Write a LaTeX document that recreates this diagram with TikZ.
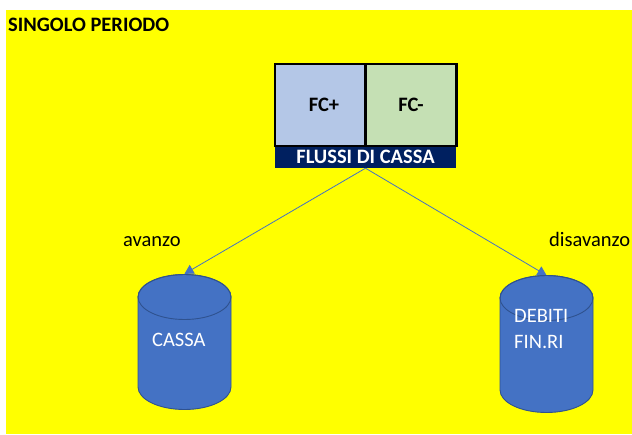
\documentclass[tikz,border=0pt]{standalone}
\usepackage{fontspec}
\setmainfont{Carlito}
\usetikzlibrary{arrows.meta}
\definecolor{sheet}{HTML}{FFFF00}
\definecolor{inflow}{HTML}{B4C7E7}
\definecolor{outflow}{HTML}{C5E0B4}
\definecolor{navy}{HTML}{002060}
\definecolor{drum}{HTML}{4472C4}
\definecolor{drumedge}{HTML}{2F528F}
\definecolor{link}{HTML}{4472C4}
\tikzset{
  cell/.style={draw=black, line width=2.6pt, minimum width=91pt, minimum height=82pt, inner sep=0pt},
  celltext/.style={inner sep=0pt, font=\fontsize{20.5}{22}\selectfont\bfseries},
  band/.style={fill=navy, text=white, minimum width=181pt, minimum height=22pt, inner sep=0pt, font=\fontsize{20.5}{22}\selectfont\bfseries},
  label/.style={anchor=base west, inner sep=0pt, font=\fontsize{20.5}{22}\selectfont},
  drumlabel/.style={anchor=base west, inner sep=0pt, text=white, align=left, font=\fontsize{20.5}{26}\selectfont},
  flow/.style={draw=link, line width=0.8pt, -{Triangle[length=9pt,width=10pt]}},
  drumbody/.style={fill=drum, draw=drumedge, line width=0.9pt},
  drumlid/.style={draw=drumedge, line width=0.9pt},
  holder/.style={minimum width=93pt, minimum height=136pt, inner sep=0pt}
}
\begin{document}
\begin{tikzpicture}[x=1pt,y=-1pt]
\useasboundingbox (0,0) rectangle (632,434);
\fill[sheet] (6,10) rectangle (632,434);

% title
\node[anchor=base west, inner sep=0pt, font=\fontsize{20.5}{22}\selectfont\bfseries] (title) at (8,31) {SINGOLO PERIODO};

% cash-flow table
\node[band] (bar) at (365.5,157) {FLUSSI DI CASSA};
\node[cell, fill=inflow] (fcp) at (320.5,105) {};
\node[cell, fill=outflow] (fcm) at (411,105) {};
\node[celltext] (fcptext) at (324,105) {FC+};
\node[celltext] (fcmtext) at (411,105) {FC-};

% invisible frames that locate the two drums
\node[holder] (cassa) at (184.5,342) {};
\node[holder] (debiti) at (546.5,343.5) {};

% connectors (drawn first so the drums cover their tips)
\draw[flow] (bar.south) -- (cassa.north);
\draw[flow] (bar.south) -- (debiti.north);

% drum: cassa
\path[drumbody] (138,297) -- (138,387) arc[start angle=180, end angle=0, x radius=46.5, y radius=22.5]
  -- (231,297) arc[start angle=0, end angle=-180, x radius=46.5, y radius=22.5] -- cycle;
\draw[drumlid] (184.5,297) ellipse[x radius=46.5, y radius=22.5];
\node[drumlabel] (cassatext) at (152,346) {CASSA};

% drum: debiti finanziari
\path[drumbody] (500,298) -- (500,390) arc[start angle=180, end angle=0, x radius=46.5, y radius=22.5]
  -- (593,298) arc[start angle=0, end angle=-180, x radius=46.5, y radius=22.5] -- cycle;
\draw[drumlid] (546.5,298) ellipse[x radius=46.5, y radius=22.5];
\node[drumlabel] (debititext) at (514,348) {DEBITI\\FIN.RI};

% branch labels
\node[label] (avanzo) at (123,246) {avanzo};
\node[label] (disavanzo) at (549,246) {disavanzo};
\end{tikzpicture}
\end{document}
